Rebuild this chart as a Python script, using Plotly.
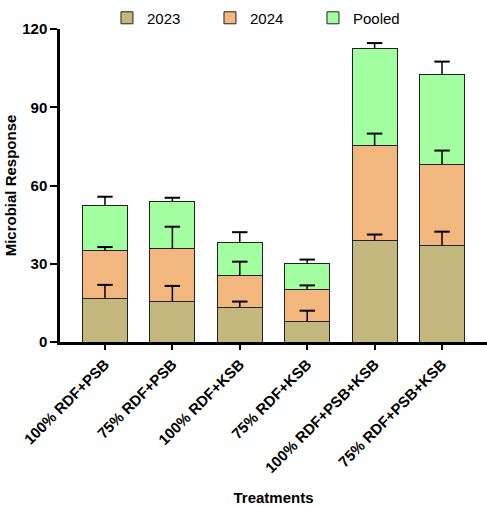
import plotly.graph_objects as go

# Treatments and mean microbial response per season
treatments = ["100% RDF+PSB", "75% RDF+PSB", "100% RDF+KSB",
              "75% RDF+KSB", "100% RDF+PSB+KSB", "75% RDF+PSB+KSB"]
y2023 = [16.8, 15.7, 13.2, 7.9, 39.0, 37.1]
y2024 = [18.1, 20.0, 12.2, 12.2, 36.2, 31.0]
pooled = [17.4, 18.0, 12.8, 10.1, 37.5, 34.3]

# Standard errors (drawn upward only)
err2023 = [5.1, 5.8, 2.3, 4.1, 2.2, 5.2]
err2024 = [1.5, 8.5, 5.4, 1.6, 4.7, 5.3]
errpooled = [3.4, 1.6, 3.9, 1.4, 1.9, 5.1]

series = [
    ("2023", y2023, err2023, "#c2b77d"),
    ("2024", y2024, err2024, "#f2b67f"),
    ("Pooled", pooled, errpooled, "#a1ff9f"),
]

fig = go.Figure()

# stacked bars
for name, vals, _, color in series:
    fig.add_trace(go.Bar(
        x=treatments, y=vals, name=name,
        marker=dict(color=color, line=dict(color="#222222", width=1)),
        width=0.67,
    ))

# one-sided error bars: a stem from each segment top up to top+SE,
# finished with a horizontal cap marker (no cap at the bar edge)
base = [0.0] * len(treatments)
for name, vals, errs, _ in series:
    tops = [b + v for b, v in zip(base, vals)]
    ends = [t + e for t, e in zip(tops, errs)]
    fig.add_trace(go.Scatter(
        x=treatments, y=ends, mode="markers",
        marker=dict(symbol="line-ew", size=11,
                    line=dict(color="black", width=2)),
        error_y=dict(type="data", array=[0] * len(errs), arrayminus=errs,
                     symmetric=False, color="black", thickness=1.5, width=0),
        showlegend=False, hoverinfo="skip",
    ))
    base = tops

font_family = "Liberation Sans, Arial, sans-serif"

fig.update_layout(
    barmode="stack",
    width=487, height=506,
    margin=dict(l=60, r=0, t=29, b=164),
    plot_bgcolor="white", paper_bgcolor="white",
    font=dict(family=font_family, color="black", size=15),
    legend=dict(orientation="h", x=0.11, xanchor="left", y=1.035, yanchor="middle",
                entrywidth=58, entrywidthmode="pixels",
                font=dict(size=15, family=font_family, color="black"),
                traceorder="normal"),
    xaxis=dict(
        range=[-0.667, 5.667],
        showline=True, linecolor="black", linewidth=2.5,
        ticks="outside", ticklen=5, tickwidth=2, tickcolor="black",
        tickangle=-45, automargin=False,
        tickfont=dict(size=15, family=font_family, color="black", weight="bold"),
        title=dict(text="<b>Treatments</b>", font=dict(size=15), standoff=18),
        showgrid=False, zeroline=False,
    ),
    yaxis=dict(
        range=[0, 120], tickvals=[0, 30, 60, 90, 120],
        showline=True, linecolor="black", linewidth=2.5,
        ticks="outside", ticklen=7, tickwidth=2, tickcolor="black",
        automargin=False,
        tickfont=dict(size=15, family=font_family, color="black", weight="bold"),
        title=dict(text="<b>Microbial Response</b>", font=dict(size=15), standoff=2),
        showgrid=False, zeroline=False,
    ),
)

fig.write_html("out.html")
